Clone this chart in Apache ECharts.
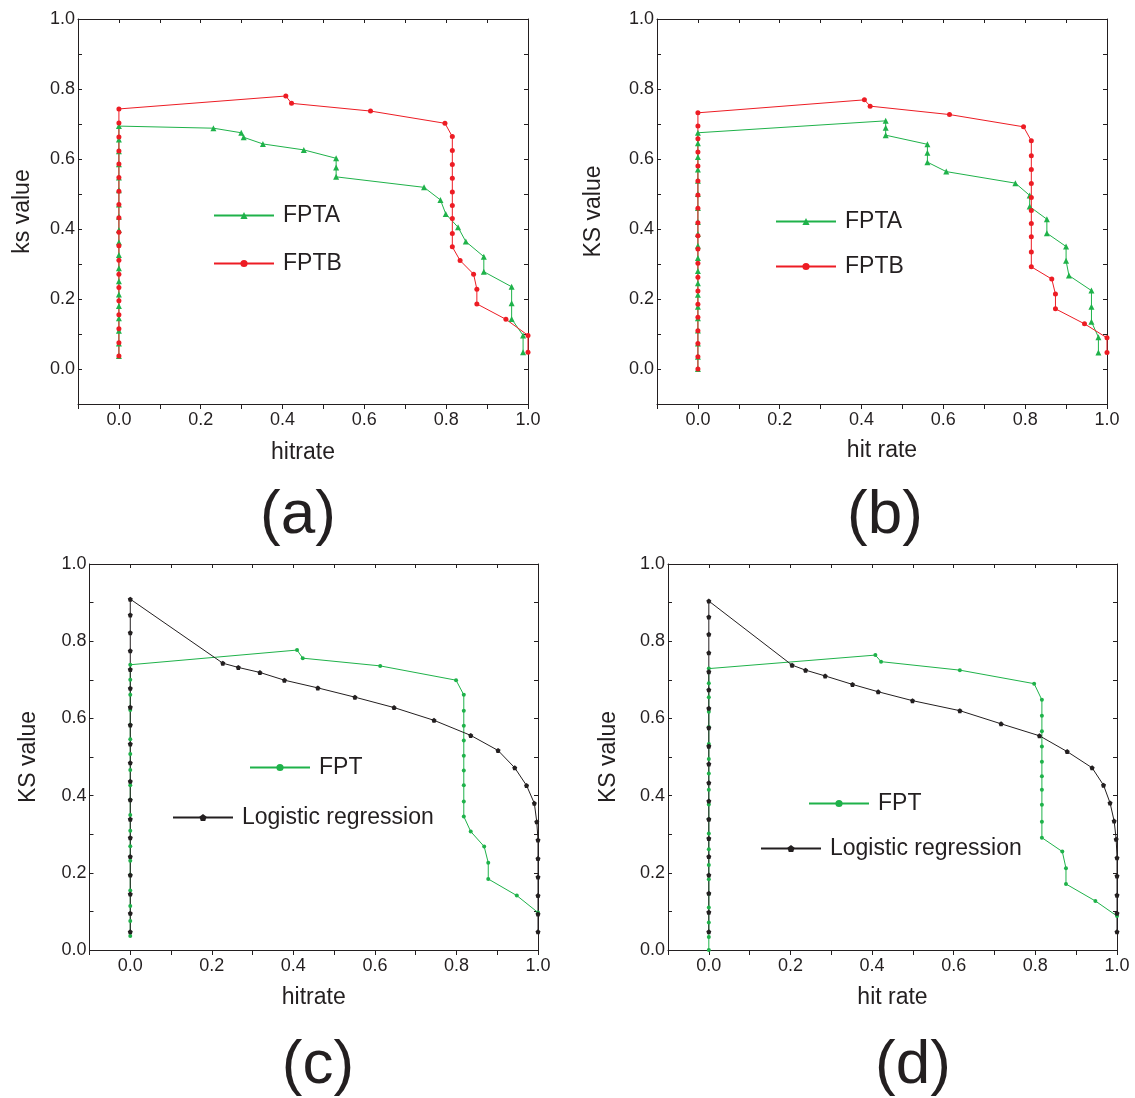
<!DOCTYPE html>
<html>
<head>
<meta charset="utf-8">
<script src="https://cdn.jsdelivr.net/npm/echarts@6/dist/echarts.min.js"></script>
<style>
  body { margin: 0; background: #fff; }
  #chart { width: 1135px; height: 1098px; }
</style>
</head>
<body>
<div id="chart"></div>
<script>
  // panel (a): [hitrate, ks value]
  const fptaA = [[0,0.037],[0,0.073],[0,0.109],[0,0.145],[0,0.180],[0,0.213],[0,0.251],[0,0.288],[0,0.326],[0,0.362],
    [0,0.397],[0,0.435],[0,0.470],[0,0.511],[0,0.547],[0,0.585],[0,0.622],[0,0.656],[0,0.694],
    [0.231,0.688],[0.299,0.675],[0.305,0.662],[0.352,0.643],[0.452,0.626],[0.531,0.602],[0.531,0.576],[0.531,0.549],
    [0.746,0.519],[0.786,0.483],[0.799,0.443],[0.829,0.405],[0.848,0.364],[0.892,0.321],[0.892,0.278],
    [0.960,0.235],[0.960,0.188],[0.960,0.143],[0.988,0.096],[0.988,0.048]]
  const fptbA = [[0,0.037],[0,0.075],[0,0.115],[0,0.155],[0,0.195],[0,0.233],[0,0.271],[0,0.311],[0,0.352],[0,0.391],
    [0,0.432],[0,0.470],[0,0.508],[0,0.547],[0,0.586],[0,0.623],[0,0.663],[0,0.703],[0,0.743],
    [0.408,0.780],[0.422,0.759],[0.615,0.737],[0.797,0.702],[0.815,0.664],[0.815,0.624],[0.815,0.584],[0.815,0.545],
    [0.815,0.506],[0.815,0.467],[0.815,0.430],[0.815,0.387],[0.815,0.349],[0.834,0.310],[0.867,0.271],
    [0.875,0.228],[0.875,0.186],[0.946,0.142],[1.0,0.096],[1.0,0.048]]

  // panel (b)
  const fptaB = [[0,0.0],[0,0.035],[0,0.073],[0,0.110],[0,0.145],[0,0.178],[0,0.212],[0,0.245],[0,0.280],[0,0.317],
    [0,0.352],[0,0.386],[0,0.420],[0,0.460],[0,0.500],[0,0.538],[0,0.570],[0,0.606],[0,0.645],[0,0.675],
    [0.459,0.709],[0.459,0.689],[0.459,0.668],[0.561,0.642],[0.561,0.618],[0.561,0.591],[0.607,0.564],
    [0.776,0.531],[0.811,0.496],[0.811,0.464],[0.853,0.428],[0.853,0.388],[0.900,0.350],[0.900,0.309],
    [0.907,0.267],[0.962,0.224],[0.962,0.178],[0.962,0.135],[0.979,0.091],[0.979,0.047]]
  const fptbB = [[0,0.0],[0,0.035],[0,0.073],[0,0.109],[0,0.148],[0,0.185],[0,0.223],[0,0.262],[0,0.302],[0,0.343],
    [0,0.381],[0,0.418],[0,0.459],[0,0.497],[0,0.537],[0,0.580],[0,0.620],[0,0.658],[0,0.694],[0,0.732],
    [0.407,0.769],[0.421,0.751],[0.615,0.727],[0.796,0.692],[0.815,0.652],[0.815,0.609],[0.815,0.570],[0.815,0.530],
    [0.815,0.490],[0.815,0.453],[0.815,0.416],[0.815,0.378],[0.815,0.334],[0.815,0.292],[0.865,0.257],
    [0.874,0.214],[0.874,0.172],[0.945,0.129],[1.0,0.089],[1.0,0.047]]

  // panel (c)
  const fptC = [[0,0.036],[0,0.075],[0,0.114],[0,0.154],[0,0.194],[0,0.231],[0,0.269],[0,0.309],[0,0.350],[0,0.389],
    [0,0.427],[0,0.466],[0,0.508],[0,0.546],[0,0.583],[0,0.622],[0,0.661],[0,0.700],[0,0.739],
    [0.409,0.777],[0.423,0.756],[0.613,0.736],[0.799,0.699],[0.818,0.661],[0.818,0.620],[0.818,0.581],[0.818,0.543],
    [0.818,0.503],[0.818,0.465],[0.818,0.427],[0.818,0.385],[0.818,0.346],[0.835,0.307],[0.868,0.268],
    [0.878,0.226],[0.878,0.184],[0.948,0.141],[1.0,0.097]]
  const logitC = [[0,0.047],[0,0.095],[0,0.145],[0,0.194],[0,0.242],[0,0.291],[0,0.339],[0,0.389],[0,0.437],[0,0.485],
    [0,0.534],[0,0.583],[0,0.629],[0,0.678],[0,0.727],[0,0.775],[0,0.822],[0,0.868],[0,0.909],
    [0.227,0.743],[0.265,0.732],[0.318,0.719],[0.378,0.699],[0.460,0.679],[0.551,0.655],[0.647,0.628],
    [0.745,0.595],[0.835,0.556],[0.902,0.517],[0.943,0.472],[0.972,0.426],[0.991,0.380],[0.997,0.332],
    [1.0,0.285],[1.0,0.237],[1.0,0.189],[1.0,0.141],[1.0,0.093],[1.0,0.047]]

  // panel (d)
  const fptD = [[0,0.0],[0,0.034],[0,0.071],[0,0.110],[0,0.146],[0,0.183],[0,0.220],[0,0.261],[0,0.302],[0,0.339],
    [0,0.377],[0,0.415],[0,0.457],[0,0.495],[0,0.534],[0,0.578],[0,0.617],[0,0.655],[0,0.691],[0,0.729],
    [0.408,0.764],[0.422,0.747],[0.615,0.725],[0.797,0.690],[0.816,0.648],[0.816,0.607],[0.816,0.567],[0.816,0.527],
    [0.816,0.488],[0.816,0.450],[0.816,0.415],[0.816,0.376],[0.816,0.332],[0.816,0.291],[0.866,0.255],
    [0.875,0.212],[0.875,0.171],[0.947,0.127],[1.0,0.088]]
  const logitD = [[0,0.047],[0,0.098],[0,0.147],[0,0.194],[0,0.242],[0,0.289],[0,0.339],[0,0.386],[0,0.433],[0,0.482],
    [0,0.528],[0,0.576],[0,0.626],[0,0.674],[0,0.721],[0,0.770],[0,0.818],[0,0.863],[0,0.904],
    [0.204,0.738],[0.237,0.725],[0.285,0.710],[0.352,0.688],[0.415,0.669],[0.499,0.646],[0.615,0.620],
    [0.716,0.586],[0.810,0.555],[0.878,0.514],[0.939,0.472],[0.967,0.427],[0.983,0.381],[0.993,0.334],
    [0.998,0.287],[1.0,0.239],[1.0,0.192],[1.0,0.142],[1.0,0.095],[1.0,0.047]]

  const xNames = ['hitrate', 'hit rate', 'hitrate', 'hit rate']
  const yNames = ['ks value', 'KS value', 'KS value', 'KS value']
  const panelLabels = ['(a)', '(b)', '(c)', '(d)']

  const FONT = "'Liberation Sans', Arial, sans-serif"
  const GREEN = '#1fb24a'
  const RED = '#ed1c24'
  const BLACK = '#231f20'
  const PENTAGON = 'path://M0,-10L9.51,-3.09L5.88,8.09L-5.88,8.09L-9.51,-3.09Z'

  const grids = [
    {left: 78, top: 19, width: 450, height: 385},
    {left: 657, top: 19, width: 450, height: 385},
    {left: 89.5, top: 564, width: 448.5, height: 386},
    {left: 668, top: 564, width: 449, height: 386}
  ]
  const yMins = [-0.1, -0.1, 0, 0]
  const xGaps = [37, 35, 36, 36]
  const yGaps = [44, 52, 49, 48]
  const labelPos = [[298, 516], [885, 516], [318, 1066], [913, 1066]]

  function tickFmt(v) {
    const r = Math.round(v * 10)
    return (r >= 0 && r % 2 === 0) ? (r / 10).toFixed(1) : ''
  }

  const axisLine = {onZero: false, lineStyle: {color: BLACK, width: 1}}
  let xAxis = [], yAxis = []
  grids.forEach((g, i) => {
    xAxis.push({
      type: 'value', gridIndex: i, position: 'bottom', min: -0.1, max: 1, interval: 0.1,
      name: xNames[i], nameLocation: 'middle', nameGap: xGaps[i],
      nameTextStyle: {fontSize: 23, fontFamily: FONT, color: BLACK},
      axisLine: axisLine, axisTick: {inside: false, length: 5, lineStyle: {color: BLACK}},
      axisLabel: {formatter: tickFmt, fontSize: 18, fontFamily: FONT, color: BLACK, margin: 7, interval: 0},
      splitLine: {show: false}
    })
    xAxis.push({
      type: 'value', gridIndex: i, position: 'top', min: -0.1, max: 1, interval: 0.1,
      axisLine: axisLine, axisTick: {inside: true, length: 4, lineStyle: {color: BLACK}},
      axisLabel: {show: false}, splitLine: {show: false}
    })
    yAxis.push({
      type: 'value', gridIndex: i, position: 'left', min: yMins[i], max: 1, interval: 0.1,
      name: yNames[i], nameLocation: 'middle', nameGap: yGaps[i], nameRotate: 90,
      nameTextStyle: {fontSize: 23, fontFamily: FONT, color: BLACK},
      axisLine: axisLine, axisTick: {inside: true, length: 4, lineStyle: {color: BLACK}},
      axisLabel: {formatter: tickFmt, fontSize: 18, fontFamily: FONT, color: BLACK, margin: 3, interval: 0},
      splitLine: {show: false}
    })
    yAxis.push({
      type: 'value', gridIndex: i, position: 'right', min: yMins[i], max: 1, interval: 0.1,
      axisLine: axisLine, axisTick: {inside: true, length: 4, lineStyle: {color: BLACK}},
      axisLabel: {show: false}, splitLine: {show: false}
    })
  })

  function line(name, data, panel, color, symbol, size) {
    return {
      name: name, type: 'line', data: data,
      xAxisIndex: panel * 2, yAxisIndex: panel * 2,
      symbol: symbol, symbolSize: size, showAllSymbol: true,
      lineStyle: {color: color, width: 1},
      itemStyle: {color: color},
      animation: false
    }
  }

  const series = [
    line('FPTA', fptaA, 0, GREEN, 'triangle', 6),
    line('FPTB', fptbA, 0, RED, 'circle', 5),
    line('FPTA', fptaB, 1, GREEN, 'triangle', 6),
    line('FPTB', fptbB, 1, RED, 'circle', 5),
    line('FPT', fptC, 2, GREEN, 'circle', 4),
    line('Logistic regression', logitC, 2, BLACK, PENTAGON, 5),
    line('FPT', fptD, 3, GREEN, 'circle', 4),
    line('Logistic regression', logitD, 3, BLACK, PENTAGON, 5)
  ]

  function legend(name, left, top) {
    return {
      data: [name], left: left, top: top, orient: 'vertical', padding: 0,
      itemWidth: 60, itemHeight: 9, selectedMode: false,
      textStyle: {fontSize: 23, fontFamily: FONT, color: BLACK, padding: [0, 0, 0, 4]}
    }
  }

  const legends = [
    legend('FPTA', 213, 204), legend('FPTB', 213, 252),
    legend('FPTA', 775, 210), legend('FPTB', 775, 255),
    legend('FPT', 249, 756), legend('Logistic regression', 172, 806),
    legend('FPT', 808, 792), legend('Logistic regression', 760, 837)
  ]

  const graphic = panelLabels.map((t, i) => ({
    type: 'text',
    style: {
      text: t, x: labelPos[i][0], y: labelPos[i][1],
      fontSize: 62, fontFamily: FONT, fill: BLACK,
      align: 'center', verticalAlign: 'middle'
    }
  }))

  const chart = echarts.init(document.getElementById('chart'))
  chart.setOption({
    backgroundColor: '#fff',
    animation: false,
    grid: grids,
    xAxis: xAxis,
    yAxis: yAxis,
    legend: legends,
    series: series,
    graphic: graphic
  })
</script>
</body>
</html>
